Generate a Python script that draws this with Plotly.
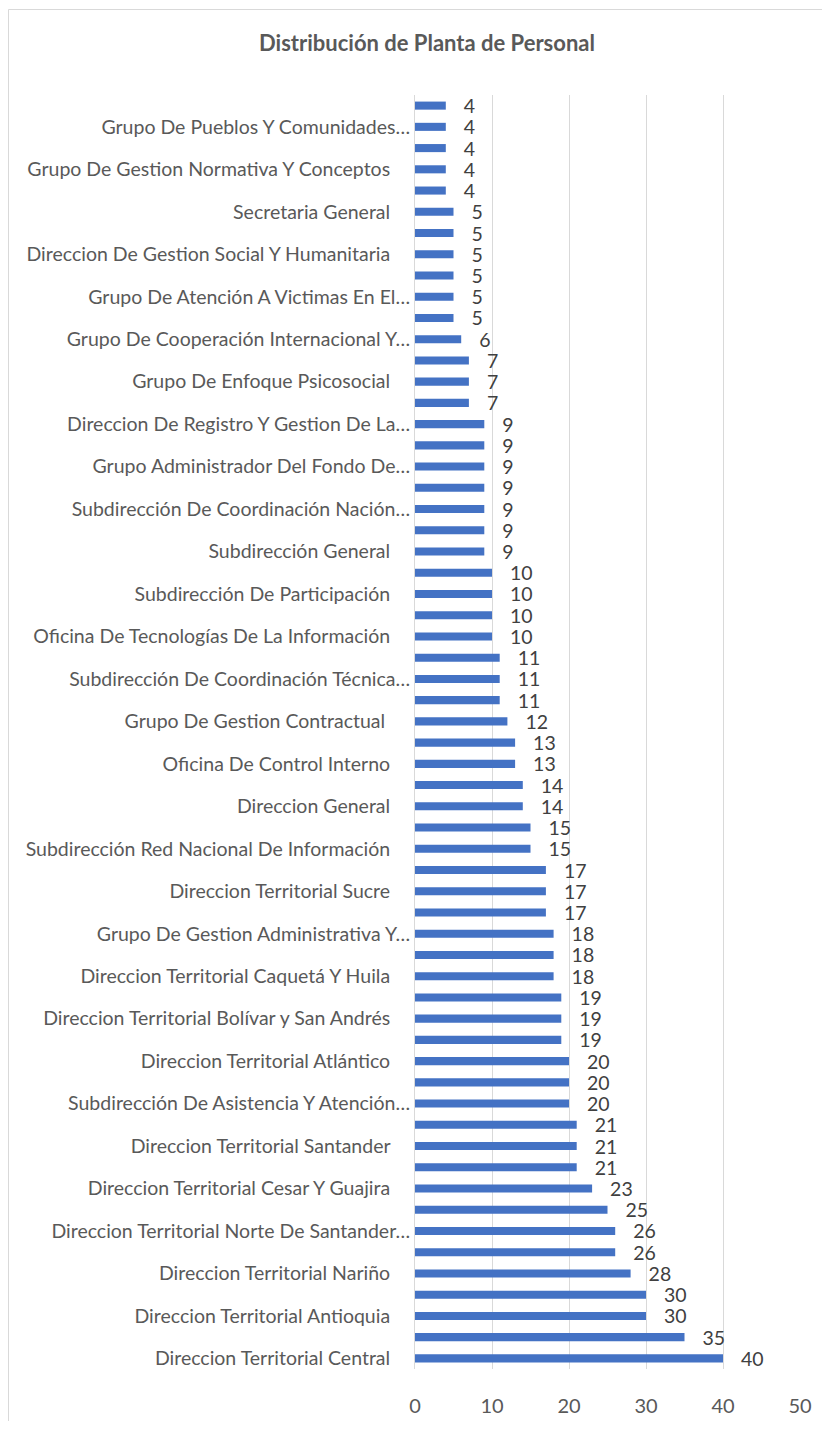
import plotly.graph_objects as go

# Data (bottom to top, as in the source chart). Only every other category label is visible.
labels = [
    "Direccion Territorial Central ", None,
    "Direccion Territorial Antioquia ", None,
    "Direccion Territorial Nariño ", None,
    "Direccion Territorial Norte De Santander…", None,
    "Direccion Territorial Cesar Y Guajira ", None,
    "Direccion Territorial Santander ", None,
    "Subdirección De Asistencia Y Atención…", None,
    "Direccion Territorial Atlántico ", None,
    "Direccion Territorial Bolívar y San Andrés ", None,
    "Direccion Territorial Caquetá Y Huila ", None,
    "Grupo De Gestion Administrativa Y…", None,
    "Direccion Territorial Sucre ", None,
    "Subdirección Red Nacional De Información ", None,
    "Direccion General ", None,
    "Oficina De Control Interno ", None,
    "Grupo De Gestion Contractual  ", None,
    "Subdirección De Coordinación Técnica…", None,
    "Oficina De Tecnologías De La Información ", None,
    "Subdirección De Participación ", None,
    "Subdirección General ", None,
    "Subdirección De Coordinación Nación…", None,
    "Grupo Administrador Del Fondo De…", None,
    "Direccion De Registro Y Gestion De La…", None,
    "Grupo De Enfoque Psicosocial ", None,
    "Grupo De Cooperación Internacional Y…", None,
    "Grupo De Atención A Victimas En El…", None,
    "Direccion De Gestion Social Y Humanitaria ", None,
    "Secretaria General ", None,
    "Grupo De Gestion Normativa Y Conceptos ", None,
    "Grupo De Pueblos Y Comunidades…", None,
]
values = [
    40, 35, 30, 30, 28, 26, 26, 25, 23, 21,
    21, 21, 20, 20, 20, 19, 19, 19, 18, 18,
    18, 17, 17, 17, 15, 15, 14, 14, 13, 13,
    12, 11, 11, 11, 10, 10, 10, 10, 9, 9,
    9, 9, 9, 9, 9, 7, 7, 7, 6, 5,
    5, 5, 5, 5, 5, 4, 4, 4, 4, 4,
]
x_ticks = [0, 10, 20, 30, 40, 50]
title = "Distribución de Planta de Personal"

positions = list(range(len(values)))
tickvals = [p for p, lab in zip(positions, labels) if lab is not None]
NB = "\u00a0"
def pad(lab):
    # trailing spaces in the source labels keep them off the axis
    stripped = lab.rstrip(" ")
    n = len(lab) - len(stripped)
    return stripped + (NB * (3 + n) if n else "")
ticktext = [pad(lab) for lab in labels if lab is not None]

FONT = "Lato, 'Open Sans', sans-serif"
# page body has an 8px margin, so the figure is sized to fit inside it
W, H = 814, 1413
ML, MR, MT, MB = 407, 22, 87, 52

fig = go.Figure(
    go.Bar(
        x=values,
        y=positions,
        orientation="h",
        marker=dict(color="#4472C4", line=dict(width=0)),
        width=0.38,
        text=values,
        texttemplate=NB * 3 + "%{x}",
        textposition="outside",
        textfont=dict(family=FONT, size=19.5, color="#404040"),
        cliponaxis=False,
        constraintext="none",
        hoverinfo="x+y",
    )
)

pw = W - ML - MR
ph = H - MT - MB
fig.add_shape(
    type="rect", xref="paper", yref="paper",
    x0=(0.5 - ML) / pw, x1=(W + 20 - ML) / pw,
    y0=-(MB + 20) / ph, y1=(H - 1.5 - MB) / ph,
    line=dict(color="#D9D9D9", width=1), fillcolor="rgba(0,0,0,0)", layer="below",
)

fig.update_layout(
    width=W, height=H,
    margin=dict(l=ML, r=MR, t=MT, b=MB, pad=0, autoexpand=False),
    paper_bgcolor="white", plot_bgcolor="white",
    showlegend=False,
    title=dict(
        text="<b>" + title + "</b>",
        x=419 / W, xanchor="center",
        y=1 - 35 / H, yanchor="middle",
        font=dict(family=FONT, size=22, color="#595959"),
        automargin=False,
    ),
    xaxis=dict(
        range=[0, 50], tickvals=x_ticks,
        showgrid=True, gridcolor="#D9D9D9", gridwidth=1,
        zeroline=False, showline=False, ticks="",
        ticklabelstandoff=23, automargin=False,
        tickfont=dict(family=FONT, size=20, color="#595959"),
        fixedrange=True,
    ),
    yaxis=dict(
        range=[-0.5, len(values) - 0.5],
        tickvals=tickvals, ticktext=ticktext,
        showgrid=False, zeroline=False,
        showline=True, linecolor="#D9D9D9", linewidth=1,
        ticks="", ticklabelstandoff=0, automargin=False,
        tickfont=dict(family=FONT, size=19.5, color="#595959"),
        fixedrange=True,
    ),
    bargap=0.62,
)

fig.write_html("out.html")
